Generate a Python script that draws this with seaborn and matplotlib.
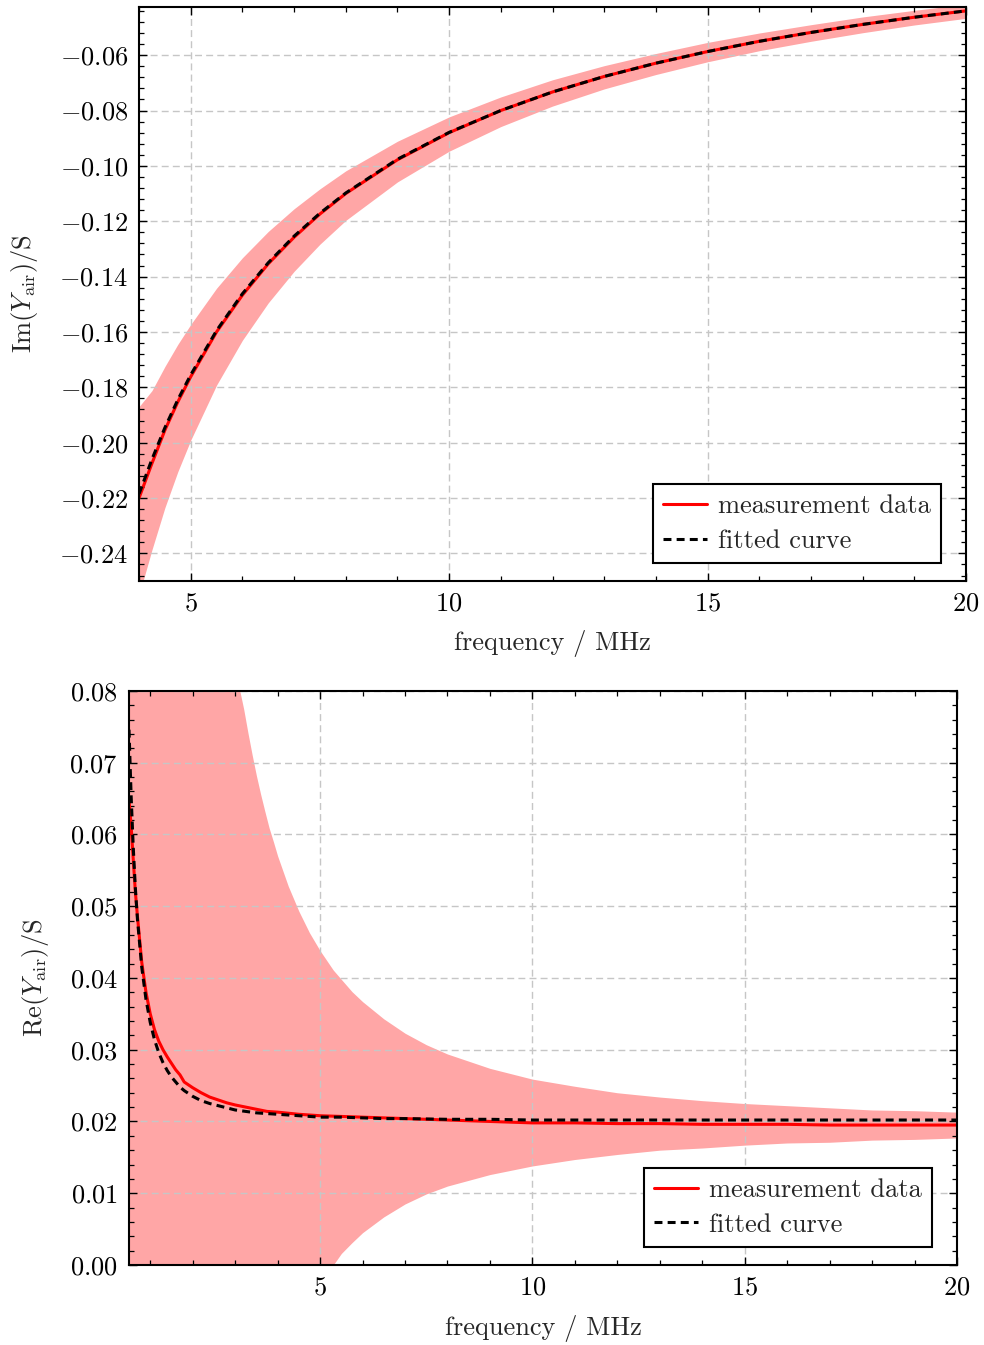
import matplotlib
matplotlib.use("Agg")
import matplotlib.pyplot as plt
from matplotlib.ticker import MultipleLocator
import pandas as pd
import seaborn as sns

# ---- Im(Y_air): imaginary part, 4-20 MHz ----
im_freq = [4.0, 4.25, 4.5, 4.75, 5.0, 5.5, 6.0, 6.5, 7.0, 7.5, 8.0, 9.0, 10.0,
           11.0, 12.0, 13.0, 14.0, 15.0, 16.0, 17.0, 18.0, 19.0, 20.0]
im_measured = [-0.2200, -0.2075, -0.1955, -0.1853, -0.1762, -0.1600, -0.1467,
               -0.1354, -0.1258, -0.1174, -0.1100, -0.0978, -0.0880, -0.0800,
               -0.0733, -0.0677, -0.0629, -0.0587, -0.0550, -0.0518, -0.0489,
               -0.0463, -0.0440]
im_fitted = [-0.2185, -0.2060, -0.1946, -0.1845, -0.1755, -0.1595, -0.1462,
             -0.1350, -0.1254, -0.1171, -0.1098, -0.0976, -0.0879, -0.0800,
             -0.0733, -0.0677, -0.0629, -0.0587, -0.0550, -0.0518, -0.0489,
             -0.0463, -0.0440]
im_upper = [-0.1870, -0.1812, -0.1725, -0.1645, -0.1573, -0.1442, -0.1332,
            -0.1237, -0.1155, -0.1083, -0.1018, -0.0911, -0.0823, -0.0751,
            -0.0689, -0.0638, -0.0594, -0.0554, -0.0520, -0.0490, -0.0462,
            -0.0438, -0.0416]
im_lower = [-0.2551, -0.2387, -0.2235, -0.2105, -0.1991, -0.1792, -0.1630,
            -0.1495, -0.1381, -0.1283, -0.1197, -0.1058, -0.0947, -0.0858,
            -0.0784, -0.0722, -0.0670, -0.0624, -0.0584, -0.0550, -0.0519,
            -0.0491, -0.0467]

# ---- Re(Y_air): real part, 0.5-20 MHz ----
re_freq = [0.5, 0.55, 0.6, 0.65, 0.7, 0.8, 0.9, 1.0, 1.1, 1.2, 1.3, 1.4, 1.5,
           1.6, 1.7, 1.8, 2.0, 2.2, 2.4, 2.6, 2.8, 3.0, 3.25, 3.5, 3.75, 4.0,
           4.5, 5.0, 5.5, 6.0, 6.5, 7.0, 8.0, 9.0, 10.0, 11.0, 12.0, 13.0,
           14.0, 15.0, 16.0, 17.0, 18.0, 19.0, 20.0]
re_measured = [0.0648, 0.0612, 0.0565, 0.0520, 0.0485, 0.0422, 0.0380, 0.0350,
               0.0328, 0.0312, 0.0300, 0.0290, 0.0281, 0.0272, 0.0265, 0.0255,
               0.0247, 0.0240, 0.0234, 0.0230, 0.0226, 0.0223, 0.0220, 0.0217,
               0.0214, 0.0213, 0.0210, 0.0208, 0.0207, 0.0206, 0.0205, 0.0204,
               0.0202, 0.0200, 0.0198, 0.0198, 0.0197, 0.0197, 0.0196, 0.0196,
               0.0196, 0.0195, 0.0195, 0.0195, 0.0195]
re_fitted = [0.0746, 0.0654, 0.0582, 0.0525, 0.0481, 0.0415, 0.0370, 0.0338,
             0.0314, 0.0296, 0.0282, 0.0271, 0.0262, 0.0255, 0.0248, 0.0243,
             0.0235, 0.0229, 0.0225, 0.0222, 0.0219, 0.0216, 0.0214, 0.0212,
             0.0211, 0.0210, 0.0208, 0.0206, 0.0206, 0.0205, 0.0204, 0.0204,
             0.0203, 0.0203, 0.0202, 0.0202, 0.0202, 0.0202, 0.0202, 0.0202,
             0.0202, 0.0202, 0.0202, 0.0202, 0.0202]

# uncertainty band of the real part (visible edges inside the plotted range)
re_band_freq = [0.5, 3.11, 3.2, 3.3, 3.4, 3.5, 3.6, 3.7, 3.8, 3.9, 4.0, 4.25,
                4.5, 4.75, 5.0, 5.31, 5.5, 5.75, 6.0, 6.5, 7.0, 7.5, 8.0, 9.0,
                10.0, 11.0, 12.0, 13.0, 14.0, 15.0, 16.0, 17.0, 18.0, 19.0,
                20.0]
re_upper = [0.0800, 0.0800, 0.0775, 0.0742, 0.0711, 0.0682, 0.0656, 0.0632,
            0.0609, 0.0590, 0.0570, 0.0528, 0.0493, 0.0463, 0.0438, 0.0411,
            0.0398, 0.0381, 0.0367, 0.0343, 0.0323, 0.0307, 0.0294, 0.0274,
            0.0259, 0.0249, 0.0240, 0.0234, 0.0229, 0.0225, 0.0222, 0.0219,
            0.0216, 0.0215, 0.0213]
re_lower = [0.0, 0.0, 0.0, 0.0, 0.0, 0.0, 0.0, 0.0, 0.0, 0.0, 0.0, 0.0, 0.0,
            0.0, 0.0, 0.0, 0.0016, 0.0031, 0.0045, 0.0067, 0.0085, 0.0099,
            0.0110, 0.0126, 0.0138, 0.0147, 0.0154, 0.0160, 0.0163, 0.0167,
            0.0170, 0.0171, 0.0174, 0.0175, 0.0177]

FS = 19

sns.set_theme(style="ticks")
plt.rcParams.update({
    "font.family": ["cmr10", "DejaVu Serif"],
    "mathtext.fontset": "cm",
    "axes.formatter.use_mathtext": True,
    "font.size": FS,
    "axes.labelsize": FS,
    "xtick.labelsize": FS,
    "ytick.labelsize": FS,
    "legend.fontsize": FS,
    "axes.linewidth": 1.5,
    "axes.edgecolor": "black",
    "axes.axisbelow": "line",
    "xtick.direction": "in",
    "ytick.direction": "in",
    "xtick.top": True,
    "ytick.right": True,
    "xtick.major.size": 6,
    "ytick.major.size": 6,
    "xtick.minor.size": 3.5,
    "ytick.minor.size": 3.5,
    "xtick.major.width": 1.0,
    "ytick.major.width": 1.0,
    "xtick.minor.width": 0.9,
    "ytick.minor.width": 0.9,
    "xtick.major.pad": 8,
    "ytick.major.pad": 8,
    "xtick.color": "black",
    "ytick.color": "black",
})

BAND = "#ffa6a6"
RED = "#ff0000"
DASH = (0, (2.6, 1.7))
LW = 2.2

fig = plt.figure(figsize=(9.84, 13.45), dpi=100)
ax_im = fig.add_axes([0.1413, 0.5680, 0.8404, 0.4268])
ax_re = fig.add_axes([0.1311, 0.0595, 0.8415, 0.4268])

df_im = pd.DataFrame({"freq": im_freq, "measured": im_measured,
                      "fitted": im_fitted})
df_re = pd.DataFrame({"freq": re_freq, "measured": re_measured,
                      "fitted": re_fitted})


def style_axes(ax, ymajor, yminor, ylabel_x, xlabel_y):
    ax.xaxis.set_major_locator(MultipleLocator(5))
    ax.xaxis.set_minor_locator(MultipleLocator(1))
    ax.yaxis.set_major_locator(MultipleLocator(ymajor))
    ax.yaxis.set_minor_locator(MultipleLocator(yminor))
    ax.tick_params(which="both", top=True, right=True, direction="in")
    ax.grid(True, which="major", color="#c6c6c6", linestyle=(0, (5, 3)),
            linewidth=1.0)
    for s in ax.spines.values():
        s.set_linewidth(1.5)
        s.set_color("black")
    ax.set_xlabel("frequency / MHz")
    ax.yaxis.set_label_coords(ylabel_x, 0.5)
    ax.xaxis.set_label_coords(0.5, xlabel_y)
    leg = ax.legend(loc="lower right",
                    bbox_to_anchor=(1 - 25 / 827, 18 / 574),
                    borderaxespad=0, fancybox=False, framealpha=1,
                    edgecolor="black", handlelength=1.67, handletextpad=0.4,
                    labelspacing=0.4, borderpad=0.39)
    leg.get_frame().set_linewidth(1.5)


# top panel: imaginary part
ax_im.fill_between(im_freq, im_lower, im_upper, color=BAND, lw=0, zorder=1)
sns.lineplot(data=df_im, x="freq", y="measured", color=RED, lw=LW,
             label="measurement data", ax=ax_im, zorder=2)
sns.lineplot(data=df_im, x="freq", y="fitted", color="black", lw=LW,
             linestyle=DASH, label="fitted curve", ax=ax_im, zorder=3)
ax_im.set_xlim(4, 20)
ax_im.set_ylim(-0.25, -0.0426)
ax_im.set_ylabel(r"$\mathrm{Im}(Y_{\mathrm{air}})/\mathrm{S}$")
style_axes(ax_im, 0.02, 0.004, -0.1198, -0.085)

# bottom panel: real part
ax_re.fill_between(re_band_freq, re_lower, re_upper, color=BAND, lw=0,
                   zorder=1)
sns.lineplot(data=df_re, x="freq", y="measured", color=RED, lw=LW,
             label="measurement data", ax=ax_re, zorder=2)
sns.lineplot(data=df_re, x="freq", y="fitted", color="black", lw=LW,
             linestyle=DASH, label="fitted curve", ax=ax_re, zorder=3)
ax_re.set_xlim(0.5, 20)
ax_re.set_ylim(0, 0.08)
ax_re.set_ylabel(r"$\mathrm{Re}(Y_{\mathrm{air}})/\mathrm{S}$")
style_axes(ax_re, 0.01, 0.002, -0.0942, -0.087)

fig.savefig("out.png", dpi=100)
